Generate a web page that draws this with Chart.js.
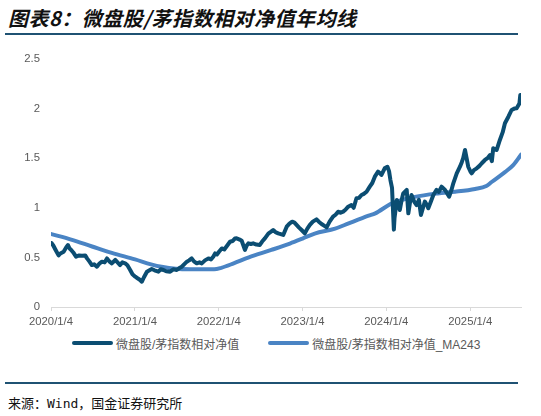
<!DOCTYPE html>
<html lang="zh">
<head>
<meta charset="UTF-8">
<title>微盘股/茅指数相对净值年均线</title>
<script src="https://cdn.jsdelivr.net/npm/chart.js"></script>
<style>
  body { margin: 0; background: #fff; width: 541px; height: 416px; position: relative; overflow: hidden;
         font-family: "Liberation Sans", "Noto Sans CJK SC", sans-serif; }
  #title { position: absolute; left: 8px; top: 3px; font-size: 20px; font-weight: bold; font-style: italic;
           font-family: "Noto Sans CJK SC", sans-serif; color: #111; letter-spacing: 0.5px; }
  .rule { position: absolute; left: 5px; width: 513px; height: 2px; background: #1f5273; }
  #wrap { position: absolute; left: 0; top: 40px; width: 541px; height: 289px; }
  #legend { position: absolute; left: 72px; top: 335px; height: 16px; display: flex; align-items: center;
            font-size: 12px; color: #595959; white-space: nowrap; }
  #legend .item { display: flex; align-items: center; margin-right: 29px; }
  #legend .bar { width: 41px; height: 4px; border-radius: 2px; margin-right: 3px; }
  #source { position: absolute; left: 8px; top: 393px; font-size: 13px; color: #111;
            font-family: "DejaVu Sans Mono", "Noto Sans CJK SC", monospace; }
</style>
</head>
<body>
<div id="title">图表8：微盘股/茅指数相对净值年均线</div>
<div class="rule" style="top:33px"></div>
<div id="wrap"><canvas id="myChart"></canvas></div>
<div id="legend"></div>
<div class="rule" style="top:382px"></div>
<div id="source">来源：Wind，国金证券研究所</div>

<script>
// tick labels on the date axis
const tickLabels = ['2020/1/4', '2021/1/4', '2022/1/4', '2023/1/4', '2024/1/4', '2025/1/4'];

// 微盘股/茅指数相对净值
const navDates = [
  '2020-01-06','2020-01-14','2020-01-23','2020-02-06','2020-02-14','2020-02-28','2020-03-10','2020-03-18',
  '2020-03-25','2020-04-01','2020-04-10','2020-04-22','2020-05-06','2020-05-18','2020-06-01','2020-06-09',
  '2020-06-19','2020-06-30','2020-07-10','2020-07-22','2020-08-03','2020-08-13','2020-08-25','2020-09-04',
  '2020-09-14','2020-09-25','2020-10-10','2020-10-20','2020-10-31','2020-11-10','2020-11-22','2020-12-02',
  '2020-12-14','2020-12-24','2021-01-05','2021-01-15','2021-01-25','2021-02-03','2021-02-12','2021-02-25',
  '2021-03-08','2021-03-18','2021-03-30','2021-04-16','2021-04-26','2021-05-08','2021-05-20','2021-06-06',
  '2021-06-20','2021-07-05','2021-07-15','2021-07-27','2021-08-06','2021-08-18','2021-08-28','2021-09-08',
  '2021-09-18','2021-09-30','2021-10-12','2021-10-22','2021-11-05','2021-11-20','2021-12-01','2021-12-11',
  '2021-12-19','2021-12-27','2022-01-05','2022-01-17','2022-01-28','2022-02-10','2022-02-22','2022-03-05',
  '2022-03-15','2022-03-23','2022-04-05','2022-04-14','2022-04-28','2022-05-06','2022-05-13','2022-05-24',
  '2022-06-03','2022-06-17','2022-07-02','2022-07-12','2022-07-24','2022-08-08','2022-08-20','2022-08-29',
  '2022-09-08','2022-09-20','2022-10-01','2022-10-12','2022-10-27','2022-11-08','2022-11-20','2022-11-30',
  '2022-12-09','2022-12-20','2022-12-31','2023-01-14','2023-01-25','2023-02-05','2023-02-18','2023-03-06',
  '2023-03-16','2023-03-28','2023-04-08','2023-04-19','2023-05-02','2023-05-17','2023-05-28','2023-06-08',
  '2023-06-19','2023-06-30','2023-07-10','2023-07-22','2023-08-05','2023-08-15','2023-08-27','2023-09-07',
  '2023-09-18','2023-09-28','2023-10-10','2023-10-24','2023-11-04','2023-11-15','2023-11-29','2023-12-07',
  '2023-12-14','2023-12-28','2024-01-09','2024-01-16','2024-01-22','2024-01-29','2024-02-06','2024-02-09',
  '2024-02-19','2024-02-27','2024-03-03','2024-03-11','2024-03-18','2024-04-02','2024-04-09','2024-04-16',
  '2024-04-23','2024-05-05','2024-05-15','2024-05-25','2024-06-03','2024-06-12','2024-06-20','2024-07-01',
  '2024-07-05','2024-07-16','2024-07-27','2024-08-10','2024-08-20','2024-09-01','2024-09-16','2024-09-24',
  '2024-10-04','2024-10-14','2024-10-22','2024-11-06','2024-11-20','2024-11-28','2024-12-04','2024-12-12',
  '2024-12-19','2024-12-26','2025-01-06','2025-01-10','2025-01-20','2025-02-01','2025-02-12','2025-02-23',
  '2025-03-09','2025-03-20','2025-03-31','2025-04-08','2025-04-14','2025-04-29','2025-05-13','2025-05-25',
  '2025-06-04','2025-06-19','2025-07-03','2025-07-15','2025-07-25','2025-08-06','2025-08-10','2025-08-13'
];
const navValues = [
  0.645, 0.62, 0.58, 0.52, 0.54, 0.557, 0.60, 0.625,
  0.59, 0.575, 0.55, 0.507, 0.52, 0.517, 0.52, 0.49,
  0.46, 0.423, 0.43, 0.406, 0.44, 0.457, 0.45, 0.49,
  0.46, 0.44, 0.474, 0.45, 0.423, 0.45, 0.44, 0.42,
  0.373, 0.33, 0.306, 0.29, 0.275, 0.255, 0.30, 0.356,
  0.37, 0.383, 0.37, 0.356, 0.38, 0.373, 0.36, 0.356,
  0.38, 0.373, 0.39, 0.406, 0.43, 0.457, 0.47, 0.49,
  0.46, 0.44, 0.45, 0.44, 0.47, 0.49, 0.48, 0.507,
  0.54, 0.53, 0.557, 0.59, 0.58, 0.62, 0.658, 0.665,
  0.69, 0.692, 0.68, 0.668, 0.575, 0.62, 0.642, 0.635,
  0.642, 0.63, 0.625, 0.66, 0.692, 0.74, 0.76, 0.776,
  0.755, 0.743, 0.735, 0.726, 0.81, 0.84, 0.86, 0.85,
  0.827, 0.80, 0.776, 0.743, 0.79, 0.827, 0.86, 0.884,
  0.86, 0.837, 0.82, 0.803, 0.86, 0.911, 0.93, 0.961,
  0.95, 0.961, 0.98, 1.011, 1.028, 1.00, 1.096, 1.10,
  1.129, 1.14, 1.162, 1.213, 1.25, 1.314, 1.364, 1.35,
  1.331, 1.398, 1.414, 1.37, 1.28, 1.20, 0.78, 0.90,
  1.079, 1.02, 0.978, 1.08, 1.146, 1.18, 0.944, 1.05,
  1.129, 1.06, 1.028, 1.08, 0.927, 1.00, 1.062, 1.02,
  0.995, 1.06, 1.129, 1.18, 1.16, 1.213, 1.18, 1.15,
  1.112, 1.18, 1.247, 1.348, 1.414, 1.46, 1.50, 1.583,
  1.50, 1.414, 1.36, 1.348, 1.38, 1.398, 1.42, 1.449,
  1.482, 1.50, 1.532, 1.47, 1.60, 1.583, 1.684, 1.76,
  1.852, 1.918, 1.986, 2.00, 2.003, 2.05, 2.137, 2.09
];

// 微盘股/茅指数相对净值_MA243
const maDates = [
  '2020-01-06','2020-04-01','2020-07-01','2020-09-25','2021-01-04','2021-03-15','2021-04-30','2021-07-01',
  '2021-09-01','2021-12-15','2022-01-15','2022-03-10','2022-05-15','2022-08-21','2022-11-10','2023-01-04',
  '2023-02-26','2023-05-26','2023-07-24','2023-10-19','2023-11-17','2024-01-29','2024-05-08','2024-08-15',
  '2024-10-30','2025-01-25','2025-03-15','2025-04-07','2025-06-04','2025-07-10','2025-08-13'
];
const maValues = [
  0.735, 0.68, 0.61, 0.545, 0.48, 0.43, 0.405, 0.385,
  0.38, 0.38, 0.395, 0.44, 0.50, 0.575, 0.64, 0.69,
  0.74, 0.79, 0.843, 0.92, 0.944, 1.045, 1.11, 1.145,
  1.162, 1.19, 1.22, 1.26, 1.36, 1.43, 1.535
];

function toTime(s) {
  const p = s.split(/[-\/]/).map(Number);
  return Date.UTC(p[0], p[1] - 1, p[2]);
}
const tickTimes = tickLabels.map(toTime);

const darkColor = '#0b4d72';
const lightColor = '#4a84c4';

const ctx = document.getElementById('myChart').getContext('2d');
const chart = new Chart(ctx, {
  type: 'line',
  data: {
    datasets: [{
      label: '微盘股/茅指数相对净值',
      data: navDates.map((d, i) => ({ x: toTime(d), y: navValues[i] })),
      borderColor: darkColor,
      backgroundColor: darkColor,
      borderWidth: 4,
      tension: 0,
      order: 1
    },
    {
      label: '微盘股/茅指数相对净值_MA243',
      data: maDates.map((d, i) => ({ x: toTime(d), y: maValues[i] })),
      borderColor: lightColor,
      backgroundColor: lightColor,
      borderWidth: 4,
      cubicInterpolationMode: 'monotone',
      order: 2
    }]
  },
  options: {
    responsive: true,
    maintainAspectRatio: false,
    animation: false,
    layout: { padding: { top: 19, right: 20, left: 0, bottom: 0 } },
    elements: {
      point: { radius: 0, hoverRadius: 0 },
      line: { borderJoinStyle: 'round', borderCapStyle: 'round', fill: false }
    },
    scales: {
      x: {
        type: 'linear',
        min: tickTimes[0],
        max: toTime(navDates[navDates.length - 1]),
        afterBuildTicks: (scale) => { scale.ticks = tickTimes.map(v => ({ value: v })); },
        afterFit: (scale) => { scale.height = 22; },
        ticks: {
          autoSkip: false,
          maxRotation: 0,
          padding: 4,
          color: '#595959',
          font: { size: 11.3, family: '"Liberation Sans", Arial, sans-serif' },
          callback: (v, i) => tickLabels[i]
        },
        grid: { drawOnChartArea: false, drawTicks: true, tickLength: 4, color: '#d9d9d9' },
        border: { color: '#d9d9d9', width: 1 }
      },
      y: {
        min: 0,
        max: 2.5,
        afterFit: (scale) => { scale.width = 51; },
        ticks: {
          stepSize: 0.5,
          padding: 11,
          color: '#595959',
          font: { size: 11.3, family: '"Liberation Sans", Arial, sans-serif' },
          callback: (v) => String(v)
        },
        grid: { display: false, drawTicks: false },
        border: { display: false }
      }
    },
    plugins: {
      tooltip: { enabled: false },
      legend: { display: false }
    }
  }
});

// legend built from the chart's own datasets
const legend = document.getElementById('legend');
chart.data.datasets.forEach(ds => {
  const item = document.createElement('div');
  item.className = 'item';
  const bar = document.createElement('span');
  bar.className = 'bar';
  bar.style.background = ds.borderColor;
  const text = document.createElement('span');
  text.textContent = ds.label;
  item.appendChild(bar);
  item.appendChild(text);
  legend.appendChild(item);
});
</script>
</body>
</html>
